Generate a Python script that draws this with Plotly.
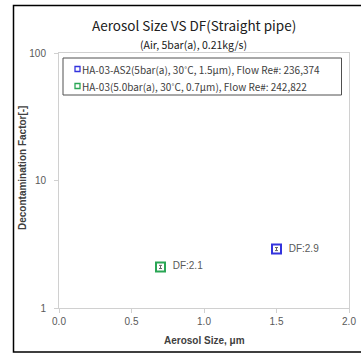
import plotly.graph_objects as go

# data
series_names = ["HA-03-AS2(5bar(a), 30˚C, 1.5μm), Flow Re#: 236,374",
                "HA-03(5.0bar(a), 30˚C, 0.7μm), Flow Re#: 242,822"]
aerosol_size = [1.5, 0.7]
df_values = [2.9, 2.1]
df_err = [0.08, 0.06]
point_labels = ["DF:2.9", "DF:2.1"]
colors = ["#3333dd", "#2aa655"]

x_ticks = [0.0, 0.5, 1.0, 1.5, 2.0]
x_tick_text = ["0.0", "0.5", "1.0", "1.5", "2.0"]
y_ticks = [1, 10, 100]
y_tick_text = ["1", "10", "100"]

FONT = "Noto Sans CJK KR"
TICKFONT = "Liberation Sans"

L, R, T, B = 59, 349, 53, 308
W, H = 361, 354

def px(xp):
    return (xp - L) / (R - L)

def py(yp):
    return (B - yp) / (B - T)

fig = go.Figure()
for i in range(len(series_names)):
    fig.add_trace(go.Scatter(
        x=[aerosol_size[i]], y=[df_values[i]],
        mode="markers+text",
        name=series_names[i],
        text=["  " + point_labels[i]],
        textposition="middle right",
        textfont=dict(family=TICKFONT, size=10, color="#595959"),
        marker=dict(symbol="square-open", size=9, color=colors[i], line=dict(width=2, color=colors[i])),
        error_y=dict(type="data", array=[df_err[i]], color="#666666", thickness=1, width=1.5),
        showlegend=False,
    ))

annotations = [
    dict(text="Aerosol Size VS DF(Straight pipe)", xref="paper", yref="paper",
         x=px(194), y=py(25), xanchor="center", yanchor="middle", showarrow=False,
         font=dict(family=FONT, size=13.5, color="#202020")),
    dict(text="(Air, 5bar(a), 0.21kg/s)", xref="paper", yref="paper",
         x=px(193), y=py(45), xanchor="center", yanchor="middle", showarrow=False,
         font=dict(family=FONT, size=10.5, color="#202020")),
    dict(text="<b>Decontamination Factor[-]</b>", xref="paper", yref="paper",
         x=px(22), y=py(168), xanchor="center", yanchor="middle", showarrow=False,
         textangle=-90, font=dict(family=TICKFONT, size=10, color="#404040")),
    dict(text="<b>Aerosol Size, μm</b>", xref="paper", yref="paper",
         x=px(204), y=py(340), xanchor="center", yanchor="middle", showarrow=False,
         font=dict(family=TICKFONT, size=10, color="#404040")),
]
shapes = [
    dict(type="rect", xref="paper", yref="paper",
         x0=px(13.5), x1=px(364), y0=py(352), y1=py(5.5),
         line=dict(color="black", width=1.5), fillcolor="rgba(0,0,0,0)", layer="above"),
    dict(type="rect", xref="paper", yref="paper",
         x0=px(63), x1=px(341.5), y0=py(95), y1=py(58),
         line=dict(color="#505050", width=1), fillcolor="white", layer="above"),
]
legend_y = [69, 86]
for i in range(len(series_names)):
    annotations.append(dict(
        text=series_names[i],
        xref="paper", yref="paper", x=px(80), y=py(legend_y[i]),
        xanchor="left", yanchor="middle", showarrow=False,
        font=dict(family=FONT, size=10, color="#404040")))
    shapes.append(dict(type="rect", xref="paper", yref="paper",
                       x0=px(75), x1=px(80), y0=py(legend_y[i] + 2.5), y1=py(legend_y[i] - 2.5),
                       line=dict(color=colors[i], width=1.3), fillcolor="white", layer="above"))

fig.update_layout(
    width=W, height=H, autosize=False,
    margin=dict(l=L, r=W - R, t=T, b=H - B, autoexpand=False),
    paper_bgcolor="white", plot_bgcolor="white",
    font=dict(family=FONT, size=10, color="#404040"),
    showlegend=False,
    xaxis=dict(
        range=[0, 2], tickvals=x_ticks, ticktext=x_tick_text,
        showgrid=False, zeroline=False, automargin=False,
        showline=True, linecolor="#d0d0d0", linewidth=1, mirror=True,
        ticks="outside", ticklen=4, tickcolor="#d0d0d0",
        tickfont=dict(family=TICKFONT, size=10, color="#595959"),
    ),
    yaxis=dict(
        type="log", range=[0, 2], tickvals=y_ticks, ticktext=y_tick_text,
        showgrid=False, zeroline=False, automargin=False,
        showline=True, linecolor="#d0d0d0", linewidth=1, mirror=True,
        ticks="outside", ticklen=4, tickcolor="#d0d0d0", ticklabelstandoff=6,
        tickfont=dict(family=TICKFONT, size=10, color="#595959"),
    ),
    shapes=shapes,
    annotations=annotations,
)

fig.write_html("out.html")
